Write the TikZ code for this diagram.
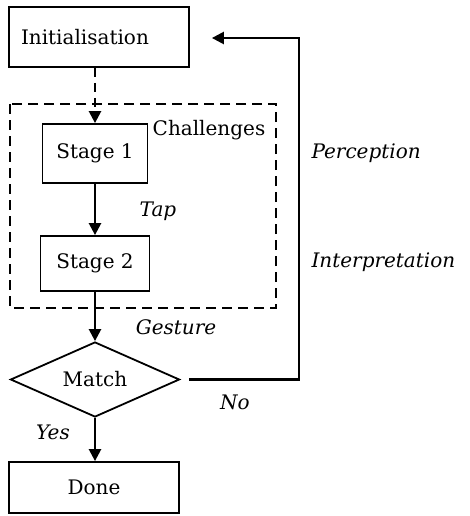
\documentclass[tikz,border=0pt]{standalone}
\usepackage{fontspec}
\setmainfont{DejaVu Serif}
\usetikzlibrary{arrows.meta, shapes.geometric, calc}

\begin{document}
\begin{tikzpicture}[x=1pt, y=-1pt,
    every node/.style={font=\fontsize{20}{24}\selectfont},
    box/.style={draw, line width=1.8pt, inner sep=0pt},
    flow/.style={line width=2.4pt, -{Triangle[length=12pt, width=12pt]}},
    lbl/.style={font=\fontsize{20}{24}\selectfont\itshape}]
    \useasboundingbox (0,0) rectangle (470,516);
    \draw[line width=1.6pt, dash pattern=on 10pt off 6pt] (10,104) rectangle (276,308);
    \node[box, minimum width=180pt, minimum height=60pt, text width=156pt,
      align=left] (init) at (99,37) {Initialisation};
    \node[box, minimum width=105pt, minimum height=59pt] (stage1) at (95,153.5) {Stage 1};
    \node[box, minimum width=109pt, minimum height=55pt] (stage2) at (95,263.5) {Stage 2};
    \node[draw, diamond, line width=1.8pt, aspect=2.25, inner sep=0pt,
      minimum width=169pt, minimum height=75pt] (match) at (95,379.5) {Match};
    \node[box, minimum width=170pt, minimum height=51pt] (done) at (94,487.5) {Done};
    \node (chal) at (209,130) {Challenges};
    \coordinate (loop) at (299,38);
    \draw[flow, dash pattern=on 9pt off 6pt] (init.south -| stage1.north) -- (stage1.north);
    \draw[flow] (stage1) -- (stage2);
    \draw[flow] (stage2) -- (match);
    \draw[flow] (match) -- (match |- done.north);
    \draw[flow] ([xshift=9pt]match.east) -| (loop) -- ([xshift=22pt]init.east |- loop);
    \node[lbl] (tap) at (158,211) {Tap};
    \node[lbl] (gesture) at (176,327) {Gesture};
    \node[lbl] (no) at (235,402) {No};
    \node[lbl] (yes) at (53,432) {Yes};
    \node[lbl, anchor=west] (perc) at (308,153) {Perception};
    \node[lbl, anchor=west] (interp) at (308,262) {Interpretation};
  \end{tikzpicture}
\end{document}
